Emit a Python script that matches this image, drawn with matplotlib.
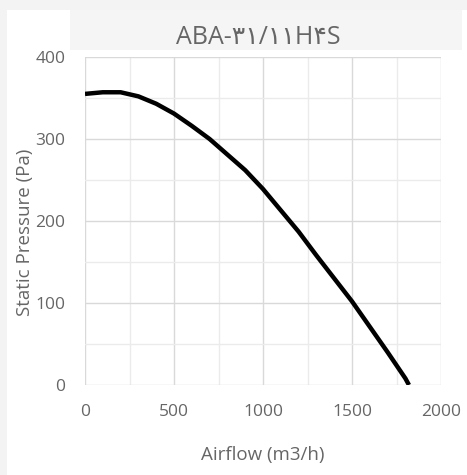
import matplotlib
matplotlib.use("Agg")
import matplotlib.pyplot as plt
from matplotlib.patches import Rectangle
from matplotlib.ticker import MultipleLocator

airflow = [0, 100, 200, 300, 400, 500, 600, 700, 800, 900, 1000, 1100, 1200,
           1300, 1400, 1500, 1600, 1700, 1800, 1820]
pressure = [355, 357, 357, 352, 343, 331, 316, 300, 281, 262, 239, 213, 187,
            158, 130, 102, 71, 40, 8, 0]
x_ticks = [0, 500, 1000, 1500, 2000]
y_ticks = [0, 100, 200, 300, 400]
title = "ABA-۳۱/۱۱H۴S"
xlabel = "Airflow (m3/h)"
ylabel = "Static Pressure (Pa)"

fam = ["Open Sans", "DejaVu Sans"]
txt = "#666666"

fig = plt.figure(figsize=(4.67, 4.75), dpi=100, facecolor="white")
# light grey frame/background strips
fig.patches.append(Rectangle((0, 0), 7/467, 1, transform=fig.transFigure,
                             facecolor="#f3f3f3", edgecolor="none", zorder=0))
fig.patches.append(Rectangle((0, 1 - 10/475), 1, 10/475, transform=fig.transFigure,
                             facecolor="#f3f3f3", edgecolor="none", zorder=0))
fig.patches.append(Rectangle((70/467, 1 - 50/475), 392/467, 40/475, transform=fig.transFigure,
                             facecolor="#f5f5f5", edgecolor="none", zorder=0))

ax = fig.add_axes([85/467, 1 - 385/475, 356/467, 328/475])
ax.set_facecolor("white")
ax.plot(airflow, pressure, color="black", lw=3.2, solid_capstyle="butt", zorder=3)

ax.set_xlim(0, 2000)
ax.set_ylim(0, 400)
ax.set_xticks(x_ticks)
ax.set_yticks(y_ticks)
ax.xaxis.set_minor_locator(MultipleLocator(250))
ax.yaxis.set_minor_locator(MultipleLocator(50))
ax.grid(which="major", color="#d9d9d9", lw=1.0)
ax.grid(which="minor", color="#ebebeb", lw=1.0)
ax.set_axisbelow(True)
for s in ax.spines.values():
    s.set_visible(False)
ax.tick_params(which="both", length=0)
ax.tick_params(axis="x", pad=14, labelsize=12.5, labelcolor=txt)
ax.tick_params(axis="y", pad=14, labelsize=12.5, labelcolor=txt)
for lab in ax.get_xticklabels() + ax.get_yticklabels():
    lab.set_family(fam)

ax.set_xlabel(xlabel, fontsize=13.5, color=txt, family=fam)
ax.xaxis.set_label_coords(0.5, (385 - 446) / 328)
ax.set_ylabel(ylabel, fontsize=13.5, color=txt, family=fam)
ax.yaxis.set_label_coords((34 - 85) / 356, (385 - 232) / 328)

fig.text(258/467, 1 - 37/475, title, ha="center", va="center", fontsize=18,
         color=txt, family=fam)

fig.savefig("out.png", dpi=100, facecolor="white")
